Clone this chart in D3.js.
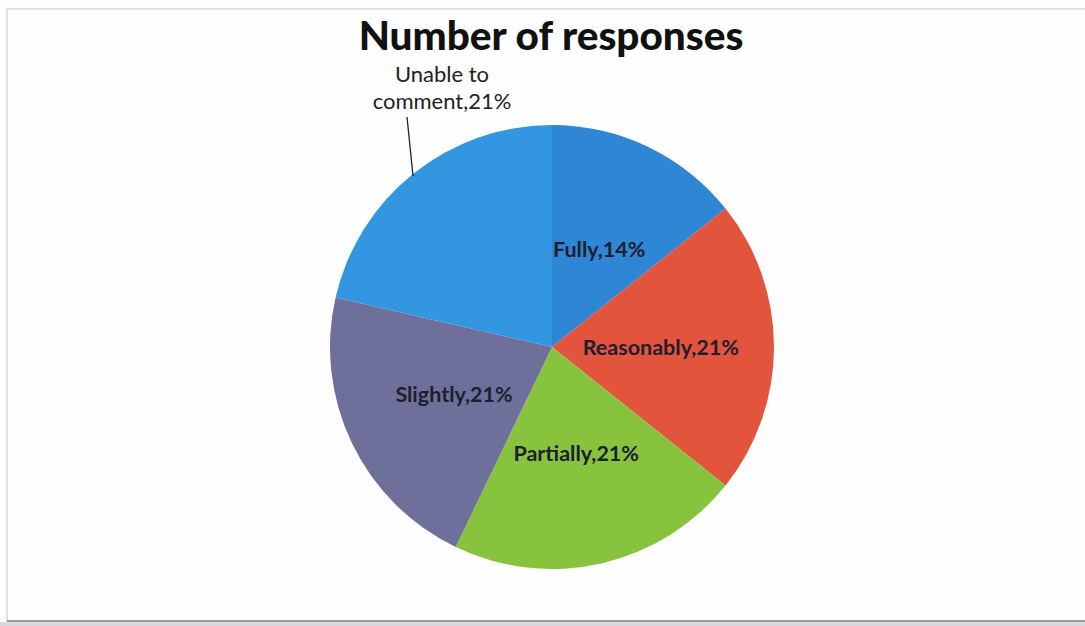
<!DOCTYPE html>
<html><head><meta charset="utf-8">
<script src="https://cdn.jsdelivr.net/npm/d3@7"></script>
<style>body{margin:0;background:#fff;}svg{display:block;}</style>
</head><body>
<svg id="c" width="1085" height="626"></svg>
<script>
const categories = ["Fully", "Reasonably", "Partially", "Slightly", "Unable to comment"];
const values = [2, 3, 3, 3, 3];
const percentLabels = ["14%", "21%", "21%", "21%", "21%"];
const colors = ["#2f86d4", "#e3543c", "#88c33d", "#6f6f9b", "#3296e0"];

const svg = d3.select("#c");
svg.append("rect").attr("x",0).attr("y",0).attr("width",1085).attr("height",626).attr("fill","#fefefe");
svg.append("rect").attr("x",0).attr("y",622).attr("width",1085).attr("height",4).attr("fill","#d8d8dc");
svg.append("line").attr("x1",7).attr("y1",9).attr("x2",1085).attr("y2",9).attr("stroke","#d6d8e6").attr("stroke-width",1.5);
svg.append("line").attr("x1",7).attr("y1",9).attr("x2",7).attr("y2",621).attr("stroke","#d2d4e6").attr("stroke-width",1.5);
svg.append("line").attr("x1",7).attr("y1",621).attr("x2",1085).attr("y2",621).attr("stroke","#77777f").attr("stroke-width",1.5);

const font = "Lato, 'Open Sans', sans-serif";
svg.append("text").attr("x",551).attr("y",50).attr("text-anchor","middle")
  .attr("font-family",font).attr("font-weight",900)
  .attr("font-size",40.5).attr("fill","#111").text("Number of responses");

const cx = 552, cy = 347, r = 222;
const pie = d3.pie().sort(null).value(d => d)(values);
const arc = d3.arc().innerRadius(0).outerRadius(r);
const g = svg.append("g").attr("transform",`translate(${cx},${cy})`);
g.selectAll("path").data(pie).join("path").attr("d",arc).attr("fill",(d,i)=>colors[i]);

const labelArc = d3.arc().innerRadius(r*0.49).outerRadius(r*0.49);
pie.forEach((d,i)=>{
  if (i === 4) return;
  const [x,y] = labelArc.centroid(d);
  g.append("text").attr("x",x).attr("y",y).attr("text-anchor","middle").attr("dy","0.35em")
    .attr("font-family",font).attr("font-weight","bold").attr("font-size",21.5).attr("fill","#1b2030")
    .text(categories[i] + "," + percentLabels[i]);
});
g.append("line").attr("x1",-145).attr("y1",-230).attr("x2",-139).attr("y2",-171)
  .attr("stroke","#222").attr("stroke-width",1.3);
const t = g.append("text").attr("text-anchor","middle").attr("font-family",font)
  .attr("font-size",22).attr("fill","#222");
t.append("tspan").attr("x",-110).attr("y",-265).text("Unable to");
t.append("tspan").attr("x",-110).attr("y",-238).text("comment," + percentLabels[4]);
</script>
</body></html>
